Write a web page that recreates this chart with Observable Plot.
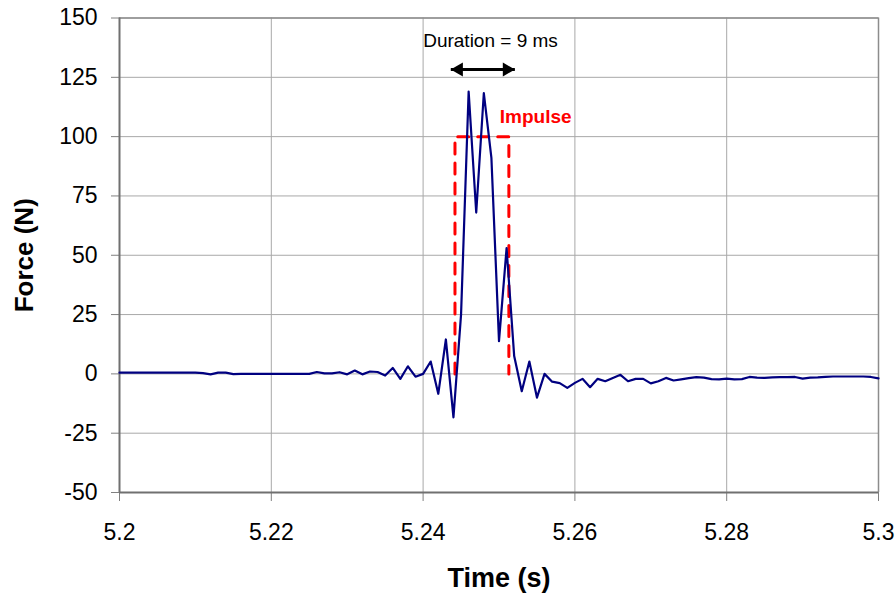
<!DOCTYPE html>
<html>
<head>
<meta charset="utf-8">
<script src="https://cdn.jsdelivr.net/npm/d3@7"></script>
<script src="https://cdn.jsdelivr.net/npm/@observablehq/plot@0.6"></script>
<style>
  html, body { margin: 0; padding: 0; background: #fff; }
  #chart { width: 896px; height: 595px; overflow: hidden; }
</style>
</head>
<body>
<div id="chart"></div>
<script>
// Sample times (s)
const time = [
  5.200, 5.201, 5.202, 5.203, 5.204, 5.205, 5.206, 5.207, 5.208, 5.209,
  5.210, 5.211, 5.212, 5.213, 5.214, 5.215, 5.216, 5.217, 5.218, 5.219,
  5.220, 5.221, 5.222, 5.223, 5.224, 5.225, 5.226, 5.227, 5.228, 5.229,
  5.230, 5.231, 5.232, 5.233, 5.234, 5.235, 5.236, 5.237, 5.238, 5.239,
  5.240, 5.241, 5.242, 5.243, 5.244, 5.245, 5.246, 5.247, 5.248, 5.249,
  5.250, 5.251, 5.252, 5.253, 5.254, 5.255, 5.256, 5.257, 5.258, 5.259,
  5.260, 5.261, 5.262, 5.263, 5.264, 5.265, 5.266, 5.267, 5.268, 5.269,
  5.270, 5.271, 5.272, 5.273, 5.274, 5.275, 5.276, 5.277, 5.278, 5.279,
  5.280, 5.281, 5.282, 5.283, 5.284, 5.285, 5.286, 5.287, 5.288, 5.289,
  5.290, 5.291, 5.292, 5.293, 5.294, 5.295, 5.296, 5.297, 5.298, 5.299,
  5.300
];
// Force (N)
const force = [
  0.5, 0.5, 0.5, 0.5, 0.5, 0.5, 0.5, 0.5, 0.5, 0.5,
  0.5, 0.3, -0.2, 0.5, 0.5, -0.1, 0, 0, 0, 0,
  0, 0, 0, 0, 0, 0, 0.8, 0.2, 0.2, 0.7,
  -0.2, 1.4, -0.2, 1.0, 0.8, -0.7, 2.5, -2.1, 3.2, -1.2,
  0, 5.2, -8.4, 14.5, -18.3, 25, 119, 68, 118.3, 91,
  13.8, 53, 7.5, -7.3, 5.2, -10, 0, -3.3, -3.9, -5.9,
  -3.8, -2.1, -5.6, -2.1, -3.1, -1.7, -0.4, -3.1, -2.1, -2.1,
  -4.0, -3.1, -1.7, -2.8, -2.3, -1.8, -1.4, -1.6, -2.2, -2.3,
  -2.0, -2.3, -2.2, -1.3, -1.6, -1.7, -1.5, -1.4, -1.4, -1.3,
  -2.0, -1.6, -1.5, -1.3, -1.1, -1.1, -1.1, -1.1, -1.1, -1.3,
  -1.9
];

// Impulse rectangle outline
const impulseTime = [5.2442, 5.2442, 5.2513, 5.2513];
const impulseForce = [0, 100, 100, 0];

// Duration arrow
const arrowTime = [5.24365, 5.25209];
const arrowForce = [128.3, 128.3];

// Tick labels
const xTicks = [5.2, 5.22, 5.24, 5.26, 5.28, 5.3];
const yTicks = [-50, -25, 0, 25, 50, 75, 100, 125, 150];

// Annotations
const durationLabel = ["Duration = 9 ms"];
const durationPos = {x: 5.24888, y: 140.3};
const impulseLabel = ["Impulse"];
const impulsePos = {x: 5.25011, y: 108.2};

const series = time.map((t, i) => ({t, f: force[i]}));
const impulse = impulseTime.map((t, i) => ({t, f: impulseForce[i]}));

const font = "'Liberation Sans', Arial, Helvetica, sans-serif";

const chart = Plot.plot({
  width: 896,
  height: 595,
  marginLeft: 119,
  marginRight: 18,
  marginTop: 17.5,
  marginBottom: 103,
  style: {fontFamily: font, fontSize: "23px", color: "black", background: "white", overflow: "visible"},
  x: {domain: [5.2, 5.3]},
  y: {domain: [-50, 150]},
  marks: [
    Plot.gridX(xTicks, {stroke: "#a8a8a8", strokeOpacity: 1, strokeWidth: 1}),
    Plot.gridY(yTicks, {stroke: "#a8a8a8", strokeOpacity: 1, strokeWidth: 1}),
    Plot.ruleY([150], {stroke: "#8c8c8c", strokeWidth: 1.5}),
    Plot.ruleX([5.3], {stroke: "#8c8c8c", strokeWidth: 1.5}),
    Plot.axisX({
      ticks: xTicks, tickSize: 9, tickPadding: 22, tickFormat: d => String(d),
      label: null, stroke: "#808080", fill: "black", fontSize: 23
    }),
    Plot.axisY({
      ticks: yTicks, tickSize: 8, tickPadding: 14, tickFormat: d => String(d),
      label: null, stroke: "#808080", fill: "black", fontSize: 23
    }),
    Plot.ruleX([5.2], {stroke: "#707070", strokeWidth: 2}),
    Plot.ruleY([-50], {stroke: "#707070", strokeWidth: 2}),
    Plot.line(impulse, {x: "t", y: "f", stroke: "#ff0000", strokeWidth: 3, strokeDasharray: "11,9"}),
    Plot.line(series, {x: "t", y: "f", stroke: "#000080", strokeWidth: 2.2}),
    // Double-headed arrow
    Plot.link([0], {
      x1: () => arrowTime[0], x2: () => arrowTime[1],
      y1: () => arrowForce[0], y2: () => arrowForce[1],
      stroke: "black", strokeWidth: 3
    }),
    Plot.dot([0], {x: () => arrowTime[0], y: () => arrowForce[0], symbol: "triangle", rotate: -90, r: 5.2, fill: "black", dx: 8}),
    Plot.dot([0], {x: () => arrowTime[1], y: () => arrowForce[1], symbol: "triangle", rotate: 90, r: 5.2, fill: "black", dx: -8}),
    Plot.text(durationLabel, {x: () => durationPos.x, y: () => durationPos.y, text: d => d, fontSize: 19, fill: "black", textAnchor: "middle"}),
    Plot.text(impulseLabel, {x: () => impulsePos.x, y: () => impulsePos.y, text: d => d, fontSize: 19, fontWeight: "bold", fill: "#ff0000", textAnchor: "start"}),
    // Axis titles
    Plot.text(["Force (N)"], {frameAnchor: "left", dx: -95, rotate: -90, textAnchor: "middle", lineAnchor: "middle", text: d => d, fontSize: 26, fontWeight: "bold", fill: "black"}),
    Plot.text(["Time (s)"], {frameAnchor: "bottom", dy: 86, textAnchor: "middle", lineAnchor: "middle", text: d => d, fontSize: 27, fontWeight: "bold", fill: "black"})
  ]
});

document.getElementById("chart").appendChild(chart);
</script>
</body>
</html>
